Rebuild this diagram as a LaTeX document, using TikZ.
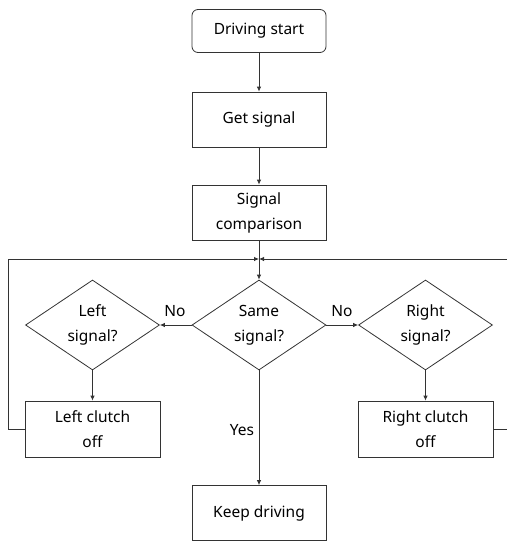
\documentclass[tikz,border=0pt]{standalone}
\usepackage{fontspec}
\setmainfont{Noto Sans}
\usetikzlibrary{shapes.geometric,arrows.meta}
\definecolor{lineGray}{rgb}{0.2, 0.2, 0.2}
\tikzset{
    procbox/.style={draw=lineGray, line width=0.8pt, rectangle, minimum width=134pt, minimum height=55pt, inner sep=0pt, align=center},
    startbox/.style={procbox, rounded corners=6pt, minimum height=43pt},
    decision/.style={draw=lineGray, line width=0.8pt, diamond, aspect=1.49, minimum width=134pt, minimum height=90pt, inner sep=0pt, align=center},
    flow/.style={draw=lineGray, line width=0.8pt, -{Latex[length=5pt,width=4.5pt]}},
    link/.style={draw=lineGray, line width=0.8pt}
}

\begin{document}
\begin{tikzpicture}[x=1pt, y=-1pt, font=\fontsize{15.5}{25}\selectfont]
            \useasboundingbox (0,0) rectangle (506,543);

            % main column
            \node[startbox] (start) at (259, 31) {Driving start};
            \node[procbox] (getsig) at (259, 119.5) {Get signal};
            \node[procbox] (compare) at (259, 212.5) {Signal\\comparison};
            \coordinate (junc) at (259, 259);
            \node[decision] (same) at (259, 325) {Same\\signal?};
            \node[procbox] (keep) at (259, 513) {Keep driving};

            % left branch
            \node[decision] (leftsig) at (92.5, 325) {Left\\signal?};
            \node[procbox, minimum width=135pt, minimum height=56pt] (leftoff) at (92.5, 429) {Left clutch\\off};
            \coordinate (lcorner) at (8, 259);

            % right branch
            \node[decision] (rightsig) at (425.5, 325) {Right\\signal?};
            \node[procbox, minimum width=135pt, minimum height=56pt] (rightoff) at (425.5, 429) {Right clutch\\off};
            \coordinate (rcorner) at (510, 259);

            % connectors
            \draw[flow] (start) -- (getsig);
            \draw[flow] (getsig) -- (compare);
            \draw[flow] (compare) -- (same);
            \draw[flow] (same) -- (leftsig);
            \draw[flow] (same) -- (rightsig);
            \draw[flow] (leftsig) -- (leftoff);
            \draw[flow] (rightsig) -- (rightoff);
            \draw[flow] (same) -- (keep);
            \draw[flow] (leftoff.west) -| (lcorner) -- (junc);
            \draw[flow] (rightoff.east) -| (rcorner) -- (junc);

            % labels
            \node (nol) at (175, 311) {No};
            \node (nor) at (342, 311) {No};
            \node (yes) at (242, 430) {Yes};
        \end{tikzpicture}
\end{document}
